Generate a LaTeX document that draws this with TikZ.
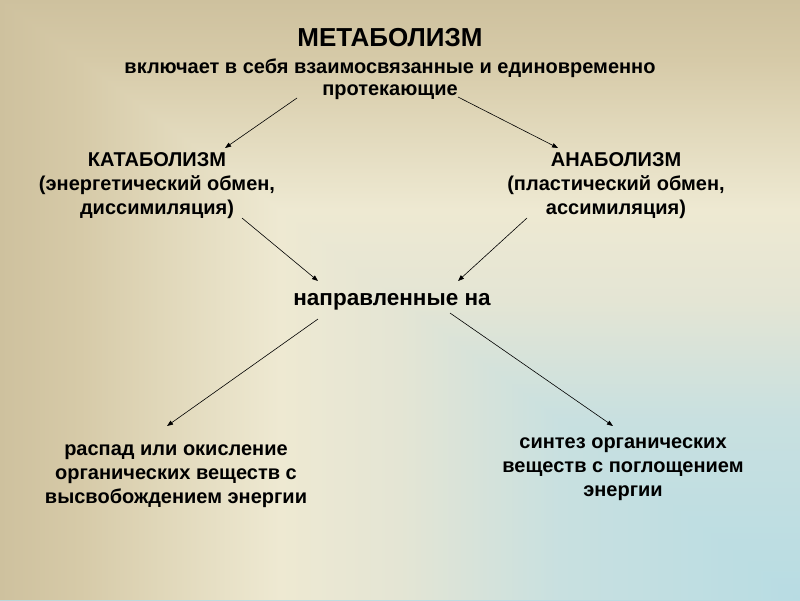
\documentclass[tikz,border=0pt]{standalone}
\usepackage{fontspec}
\setmainfont{Liberation Sans}
\usetikzlibrary{arrows.meta}
\definecolor{g0}{HTML}{B8DCE3}
\definecolor{g1}{HTML}{C8E0E0}
\definecolor{g2}{HTML}{E4E5D4}
\definecolor{g3}{HTML}{EEE9D2}
\definecolor{g4}{HTML}{E0D7B9}
\definecolor{g5}{HTML}{D6CAA8}
\definecolor{g6}{HTML}{CEC19E}
% horizontal: x=0 (t=1) at 25bp, x=max (t=0) at 75bp
\pgfdeclarehorizontalshading{hsh}{100bp}{color(0bp)=(g6); color(25bp)=(g6); color(30bp)=(g5); color(35bp)=(g4); color(42.5bp)=(g3); color(50bp)=(g2); color(60bp)=(g1); color(75bp)=(g0); color(100bp)=(g0)}
% vertical: bottom (t=0) at 25bp, top (t=1) at 75bp
\pgfdeclareverticalshading{vsh}{100bp}{color(0bp)=(g0); color(25bp)=(g0); color(40bp)=(g1); color(50bp)=(g2); color(57.5bp)=(g3); color(65bp)=(g4); color(70bp)=(g5); color(75bp)=(g6); color(100bp)=(g6)}
\tikzset{
  lbl/.style={font=\bfseries\fontsize{20}{24}\selectfont, align=center, inner sep=0pt},
  conn/.style={line width=0.6pt, -{Triangle[length=6pt,width=4.5pt]}}
}
\begin{document}
\begin{tikzpicture}[x=1pt,y=1pt]
\useasboundingbox (0,0) rectangle (800,-600);
\shade[shading=vsh] (0,0) rectangle (800,-600);
\begin{scope}
\clip (0,0) -- (0,-600) -- (800,-600) -- cycle;
\shade[shading=hsh] (0,0) rectangle (800,-600);
\end{scope}

\node[lbl, font=\bfseries\fontsize{26}{30}\selectfont] (title) at (390,-38) {МЕТАБОЛИЗМ};
\node[lbl, font=\bfseries\fontsize{20}{22}\selectfont] (sub) at (390,-79) {включает в себя взаимосвязанные и единовременно\\протекающие};
\node[lbl] (cat) at (157,-186) {КАТАБОЛИЗМ\\(энергетический обмен,\\диссимиляция)};
\node[lbl] (ana) at (616,-186) {АНАБОЛИЗМ\\(пластический обмен,\\ассимиляция)};
\node[lbl, font=\bfseries\fontsize{22.5}{26}\selectfont] (dir) at (392,-302) {направленные на};
\node[lbl] (res1) at (176,-476) {распад или окисление\\органических веществ с\\высвобождением энергии};
\node[lbl] (res2) at (623,-469) {синтез органических\\веществ с поглощением\\энергии};

\coordinate (s1) at (297,-98);  \coordinate (e1) at (225,-148);
\coordinate (s2) at (458,-97);  \coordinate (e2) at (558,-148);
\coordinate (s3) at (242,-218); \coordinate (e3) at (318,-281);
\coordinate (s4) at (527,-218); \coordinate (e4) at (458,-281);
\coordinate (s5) at (318,-319); \coordinate (e5) at (167,-426);
\coordinate (s6) at (450,-313); \coordinate (e6) at (613,-426);

\draw[conn] (s1) -- (e1);
\draw[conn] (s2) -- (e2);
\draw[conn] (s3) -- (e3);
\draw[conn] (s4) -- (e4);
\draw[conn] (s5) -- (e5);
\draw[conn] (s6) -- (e6);
\end{tikzpicture}
\end{document}
